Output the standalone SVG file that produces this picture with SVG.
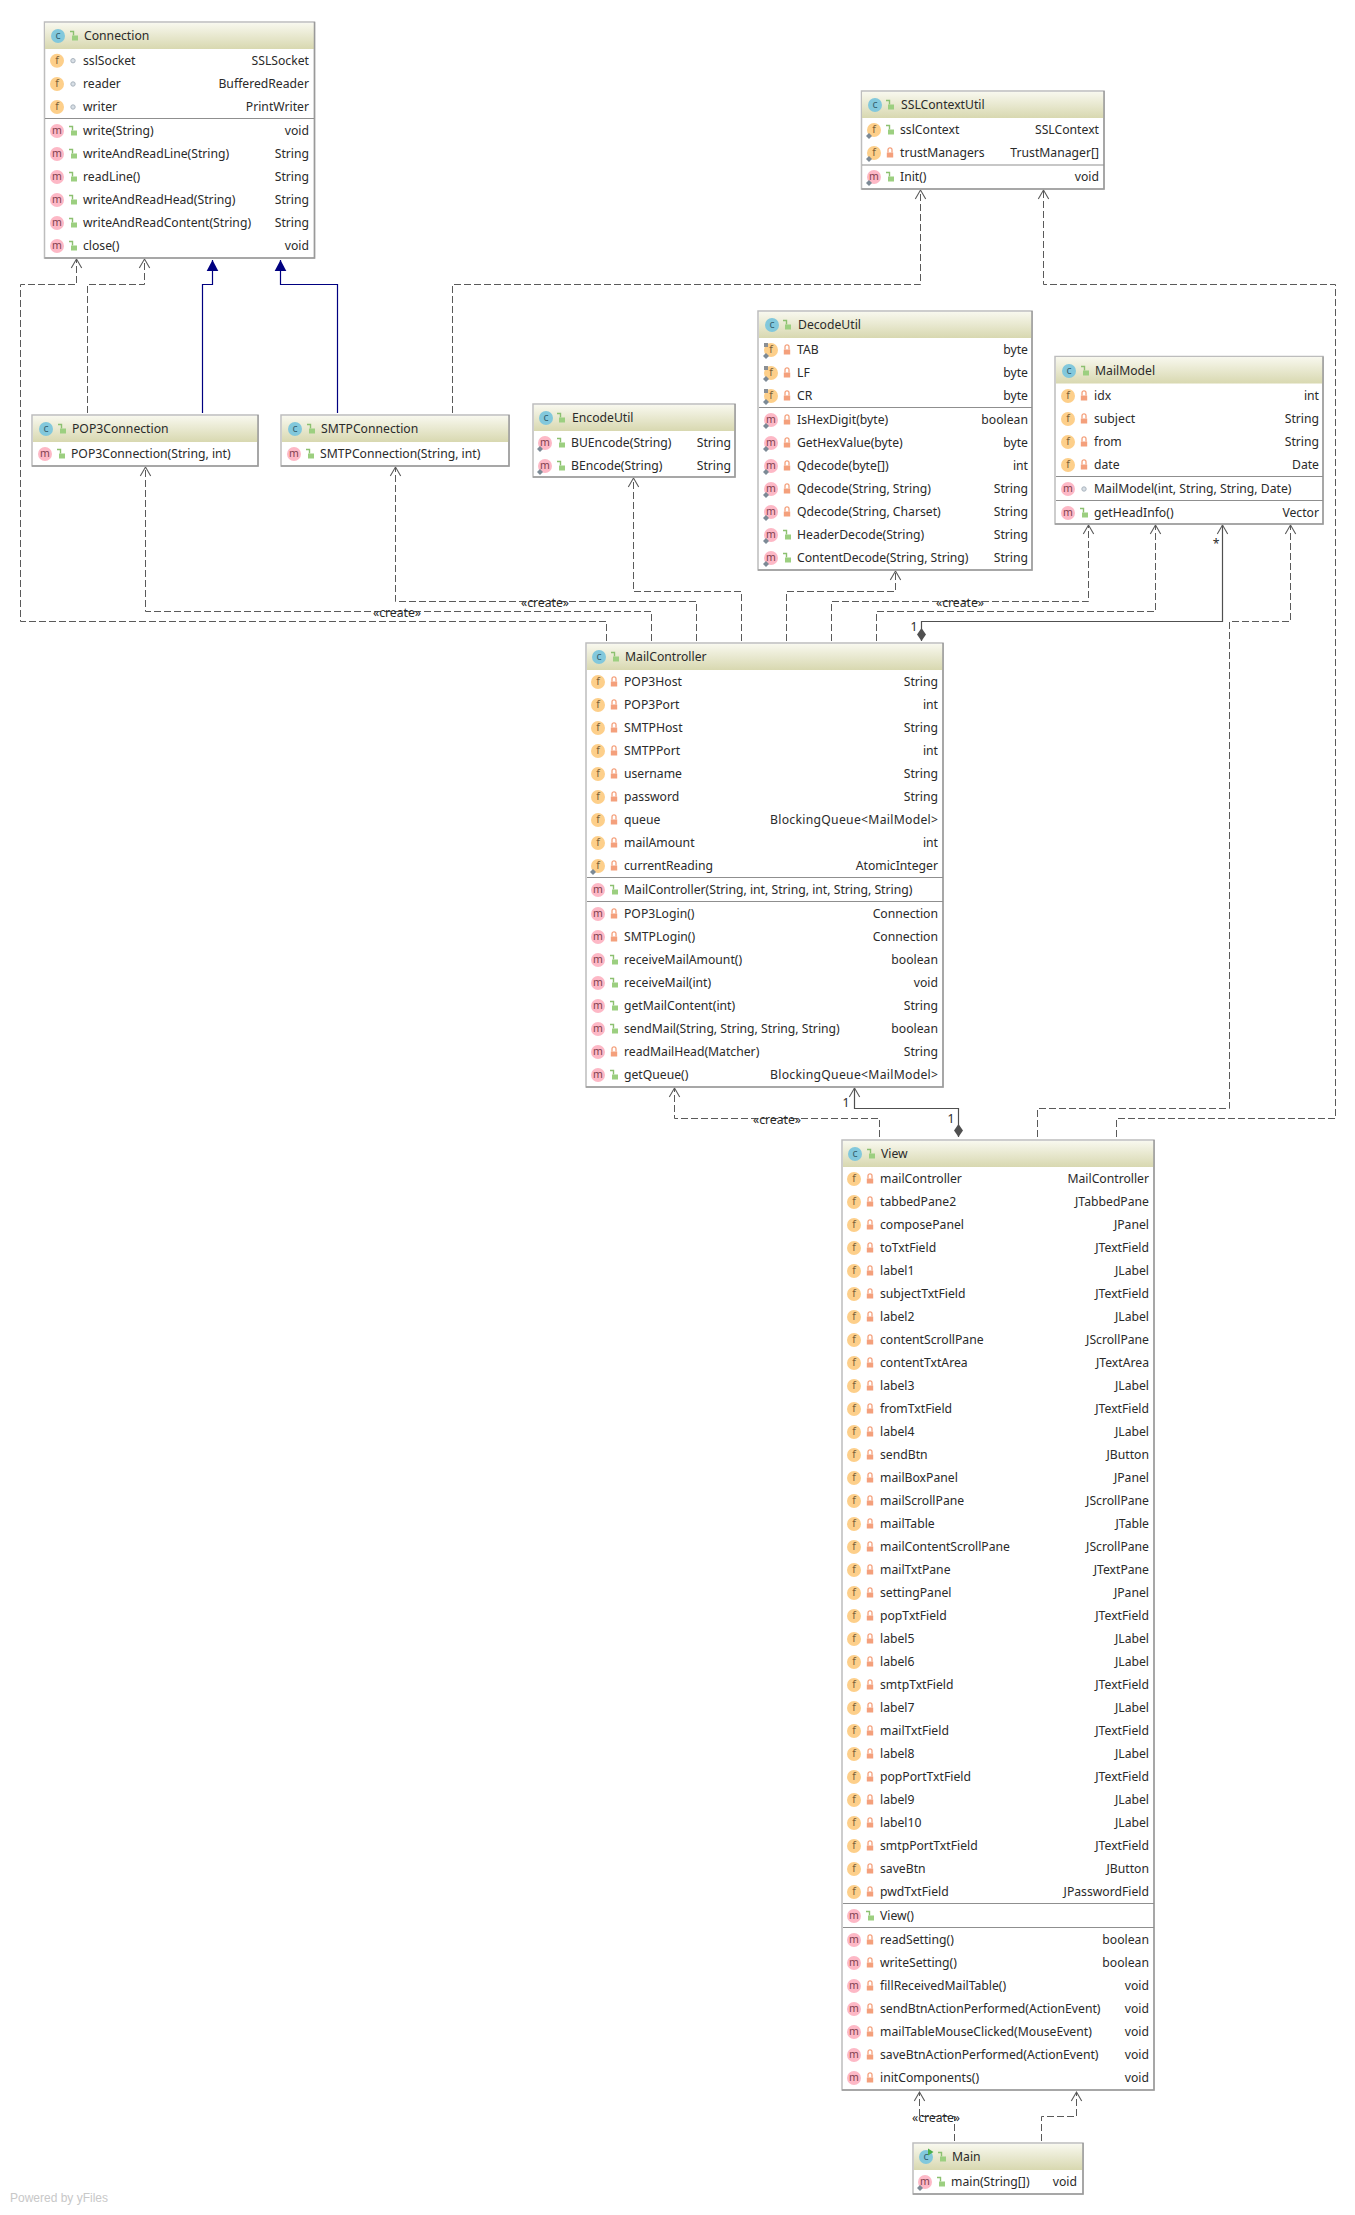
<svg xmlns="http://www.w3.org/2000/svg" width="1355" height="2215" viewBox="0 0 1355 2215">
<style>
text{font-family:"Noto Sans","Open Sans",sans-serif;font-size:12.2px;fill:#2a2a2a;dominant-baseline:central;transform:translateY(-.6px)}
.r{text-anchor:end}
.box{fill:#fff;stroke:#bdbdbd;stroke-width:1.5}
.sh{fill:none;stroke:#9a9a9a;stroke-width:1.5}
.hd{fill:url(#hg)}
.sep{stroke:#8f8f8f;stroke-width:1.2}
.dep{fill:none;stroke:#5a5a5a;stroke-width:1;stroke-dasharray:7 3;marker-end:url(#open)}
.ext{fill:none;stroke:#000080;stroke-width:1.2;marker-end:url(#tri)}
.comp{fill:none;stroke:#505050;stroke-width:1.2;marker-start:url(#dia);marker-end:url(#open)}
.il{font-size:10.5px;text-anchor:middle}
</style>
<defs>
<linearGradient id="hg" x1="0" y1="0" x2="0" y2="1"><stop offset="0" stop-color="#f8f8ee"/><stop offset="1" stop-color="#d8d8b0"/></linearGradient>
<marker id="open" markerUnits="userSpaceOnUse" markerWidth="14" markerHeight="14" refX="11" refY="7" orient="auto"><path d="M2 1.8L11 7L2 12.2" fill="none" stroke="#5a5a5a" stroke-width="1.1"/></marker>
<marker id="tri" markerUnits="userSpaceOnUse" markerWidth="14" markerHeight="14" refX="12" refY="7" orient="auto"><path d="M1 1.2L12 7L1 12.8z" fill="#000080"/></marker>
<marker id="dia" markerUnits="userSpaceOnUse" markerWidth="16" markerHeight="12" refX="1" refY="6" orient="auto"><path d="M1 6L7.5 1.5L14 6L7.5 10.5z" fill="#505050"/></marker>
<g id="c"><circle r="7" fill="#82c8dc"/><text class="il" style="fill:#35606e">c</text></g>
<g id="c2"><circle r="7" fill="#82c8dc"/><text class="il" style="fill:#35606e">c</text><path d="M2-8.5L7.5-5L2-1.5z" fill="#4cae4c"/></g>
<g id="f"><circle r="7" fill="#fdcf8a"/><text class="il" style="fill:#7a6038">f</text></g>
<g id="m"><circle r="7" fill="#fdb8c6"/><text class="il" style="fill:#80404e">m</text></g>
<path id="gear" d="M0-3L3 0L0 3L-3 0z" fill="#7c8a96"/>
<g id="fs"><use href="#f"/><use href="#gear" x="-5" y="6"/></g>
<g id="ms"><use href="#m"/><use href="#gear" x="-5" y="6"/></g>
<g id="fsf"><use href="#fs"/><path d="M-7-7L-3-7L-3-3L-7-3z" fill="#8a8f94"/></g>
<g id="pub"><path d="M-4-4.5H-0.5V-0.5" fill="none" stroke="#8cc070" stroke-width="1.4"/><rect x="-2" y="-0.5" width="6" height="5" fill="#9ccf80"/></g>
<g id="pri"><path d="M-2-0.5V-3.2A2 2 0 0 1 2-3.2V-0.5" fill="none" stroke="#f4a07c" stroke-width="1.3"/><rect x="-3.2" y="-0.5" width="6.4" height="5" fill="#f4a07c"/></g>
<circle id="pk" r="2.2" fill="#d8dfe6" stroke="#aab4be"/>
</defs>
<rect width="1355" height="2215" fill="#fff"/>
<g id="connectors">
<path class="dep" d="M606.5 641V621.5H20.5V284.5H76.5V259"/>
<path class="dep" d="M87.5 413V284.5H144.5V259"/>
<path class="ext" d="M202.5 413V284.5H212.5V260"/>
<path class="ext" d="M337.5 413V284.5H280.5V260"/>
<path class="dep" d="M452.5 413V284.5H920.5V190"/>
<path class="dep" d="M1116.5 1137V1118.5H1335.5V284.5H1043.5V190"/>
<path class="dep" d="M651.5 641V611.5H145.5V467"/>
<path class="dep" d="M696.5 641V601.5H395.5V467"/>
<path class="dep" d="M741.5 641V591.5H633.5V478"/>
<path class="dep" d="M786.5 641V591.5H895.5V571"/>
<path class="dep" d="M831.5 641V601.5H1088.5V525"/>
<path class="dep" d="M876.5 641V611.5H1155.5V525"/>
<path class="comp" d="M921.5 641V621.5H1222.5V525"/>
<path class="dep" d="M1037.5 1137V1108.5H1229.5V621.5H1290.5V525"/>
<path class="dep" d="M879.5 1137V1118.5H674.5V1088"/>
<path class="comp" d="M958.5 1137V1108.5H854.5V1088"/>
<path class="dep" d="M954.5 2141V2116.5H919.5V2092"/>
<path class="dep" d="M1041.5 2141V2116.5H1076.5V2092"/>
<text x="397" y="613" text-anchor="middle">«create»</text>
<text x="545" y="603" text-anchor="middle">«create»</text>
<text x="960" y="603" text-anchor="middle">«create»</text>
<text x="777" y="1120" text-anchor="middle">«create»</text>
<text x="936" y="2118" text-anchor="middle">«create»</text>
<text x="1216" y="544" text-anchor="middle">*</text>
<text x="914" y="627" text-anchor="middle">1</text>
<text x="846" y="1103" text-anchor="middle">1</text>
<text x="951" y="1119" text-anchor="middle">1</text>
</g>
<g id="Connection">
<rect class="box" x="44.5" y="22" width="270" height="236"/><rect class="hd" x="45" y="23" width="269" height="26"/><path class="sh" d="M44.5 258H314.5V22"/>
<use href="#c" x="58" y="36"/><use href="#pub" x="74" y="36"/><text x="84" y="36">Connection</text>
<use href="#f" x="57" y="60.700"/><use href="#pk" x="73" y="60.700"/><text x="83" y="60.700">sslSocket</text><text class="r" x="309" y="60.700">SSLSocket</text>
<use href="#f" x="57" y="84"/><use href="#pk" x="73" y="84"/><text x="83" y="84">reader</text><text class="r" x="309" y="84">BufferedReader</text>
<use href="#f" x="57" y="107"/><use href="#pk" x="73" y="107"/><text x="83" y="107">writer</text><text class="r" x="309" y="107">PrintWriter</text>
<line class="sep" x1="45" x2="314" y1="118.5" y2="118.5"/>
<use href="#m" x="57" y="131"/><use href="#pub" x="73" y="131"/><text x="83" y="131">write(String)</text><text class="r" x="309" y="131">void</text>
<use href="#m" x="57" y="154"/><use href="#pub" x="73" y="154"/><text x="83" y="154">writeAndReadLine(String)</text><text class="r" x="309" y="154">String</text>
<use href="#m" x="57" y="177"/><use href="#pub" x="73" y="177"/><text x="83" y="177">readLine()</text><text class="r" x="309" y="177">String</text>
<use href="#m" x="57" y="200"/><use href="#pub" x="73" y="200"/><text x="83" y="200">writeAndReadHead(String)</text><text class="r" x="309" y="200">String</text>
<use href="#m" x="57" y="223"/><use href="#pub" x="73" y="223"/><text x="83" y="223">writeAndReadContent(String)</text><text class="r" x="309" y="223">String</text>
<use href="#m" x="57" y="246"/><use href="#pub" x="73" y="246"/><text x="83" y="246">close()</text><text class="r" x="309" y="246">void</text>
</g>
<g id="POP3Connection">
<rect class="box" x="32" y="415" width="226" height="51"/><rect class="hd" x="33" y="416" width="225" height="26"/><path class="sh" d="M32 466H258V415"/>
<use href="#c" x="46" y="429"/><use href="#pub" x="62" y="429"/><text x="72" y="429">POP3Connection</text>
<use href="#m" x="45" y="454"/><use href="#pub" x="61" y="454"/><text x="71" y="454">POP3Connection(String, int)</text>
</g>
<g id="SMTPConnection">
<rect class="box" x="281" y="415" width="228" height="51"/><rect class="hd" x="282" y="416" width="227" height="26"/><path class="sh" d="M281 466H509V415"/>
<use href="#c" x="295" y="429"/><use href="#pub" x="311" y="429"/><text x="321" y="429">SMTPConnection</text>
<use href="#m" x="294" y="454"/><use href="#pub" x="310" y="454"/><text x="320" y="454">SMTPConnection(String, int)</text>
</g>
<g id="SSLContextUtil">
<rect class="box" x="861.5" y="91" width="242.5" height="98"/><rect class="hd" x="862" y="92" width="242" height="26"/><path class="sh" d="M861.5 189H1104V91"/>
<use href="#c" x="875" y="105"/><use href="#pub" x="890" y="105"/><text x="901" y="105">SSLContextUtil</text>
<use href="#fs" x="874" y="130"/><use href="#pub" x="890" y="130"/><text x="900" y="130">sslContext</text><text class="r" x="1099" y="130">SSLContext</text>
<use href="#fs" x="874" y="153"/><use href="#pri" x="890" y="153"/><text x="900" y="153">trustManagers</text><text class="r" x="1099" y="153">TrustManager[]</text>
<line class="sep" x1="862" x2="1104" y1="165" y2="165"/>
<use href="#ms" x="874" y="177"/><use href="#pub" x="890" y="177"/><text x="900" y="177">Init()</text><text class="r" x="1099" y="177">void</text>
</g>
<g id="EncodeUtil">
<rect class="box" x="533" y="404" width="202" height="73"/><rect class="hd" x="534" y="405" width="201" height="26"/><path class="sh" d="M533 477H735V404"/>
<use href="#c" x="546" y="418"/><use href="#pub" x="561" y="418"/><text x="572" y="418">EncodeUtil</text>
<use href="#ms" x="545" y="443"/><use href="#pub" x="561" y="443"/><text x="571" y="443">BUEncode(String)</text><text class="r" x="731" y="443">String</text>
<use href="#ms" x="545" y="466"/><use href="#pub" x="561" y="466"/><text x="571" y="466">BEncode(String)</text><text class="r" x="731" y="466">String</text>
</g>
<g id="DecodeUtil">
<rect class="box" x="758" y="311" width="274" height="259"/><rect class="hd" x="759" y="312" width="273" height="26"/><path class="sh" d="M758 570H1032V311"/>
<use href="#c" x="772" y="325"/><use href="#pub" x="787" y="325"/><text x="798" y="325">DecodeUtil</text>
<use href="#fsf" x="771" y="350"/><use href="#pri" x="787" y="350"/><text x="797" y="350">TAB</text><text class="r" x="1028" y="350">byte</text>
<use href="#fsf" x="771" y="373"/><use href="#pri" x="787" y="373"/><text x="797" y="373">LF</text><text class="r" x="1028" y="373">byte</text>
<use href="#fsf" x="771" y="396"/><use href="#pri" x="787" y="396"/><text x="797" y="396">CR</text><text class="r" x="1028" y="396">byte</text>
<line class="sep" x1="759" x2="1032" y1="407.5" y2="407.5"/>
<use href="#ms" x="771" y="420"/><use href="#pri" x="787" y="420"/><text x="797" y="420">IsHexDigit(byte)</text><text class="r" x="1028" y="420">boolean</text>
<use href="#ms" x="771" y="443"/><use href="#pri" x="787" y="443"/><text x="797" y="443">GetHexValue(byte)</text><text class="r" x="1028" y="443">byte</text>
<use href="#ms" x="771" y="466"/><use href="#pri" x="787" y="466"/><text x="797" y="466">Qdecode(byte[])</text><text class="r" x="1028" y="466">int</text>
<use href="#ms" x="771" y="489"/><use href="#pri" x="787" y="489"/><text x="797" y="489">Qdecode(String, String)</text><text class="r" x="1028" y="489">String</text>
<use href="#ms" x="771" y="512"/><use href="#pri" x="787" y="512"/><text x="797" y="512">Qdecode(String, Charset)</text><text class="r" x="1028" y="512">String</text>
<use href="#ms" x="771" y="535"/><use href="#pub" x="787" y="535"/><text x="797" y="535">HeaderDecode(String)</text><text class="r" x="1028" y="535">String</text>
<use href="#ms" x="771" y="558"/><use href="#pub" x="787" y="558"/><text x="797" y="558">ContentDecode(String, String)</text><text class="r" x="1028" y="558">String</text>
</g>
<g id="MailModel">
<rect class="box" x="1055" y="356.5" width="268" height="167.5"/><rect class="hd" x="1056" y="357" width="267" height="26.5"/><path class="sh" d="M1055 524H1323V356.5"/>
<use href="#c" x="1069" y="371"/><use href="#pub" x="1085" y="371"/><text x="1095" y="371">MailModel</text>
<use href="#f" x="1068" y="396"/><use href="#pri" x="1084" y="396"/><text x="1094" y="396">idx</text><text class="r" x="1319" y="396">int</text>
<use href="#f" x="1068" y="419"/><use href="#pri" x="1084" y="419"/><text x="1094" y="419">subject</text><text class="r" x="1319" y="419">String</text>
<use href="#f" x="1068" y="442"/><use href="#pri" x="1084" y="442"/><text x="1094" y="442">from</text><text class="r" x="1319" y="442">String</text>
<use href="#f" x="1068" y="465"/><use href="#pri" x="1084" y="465"/><text x="1094" y="465">date</text><text class="r" x="1319" y="465">Date</text>
<line class="sep" x1="1056" x2="1323" y1="476.5" y2="476.5"/>
<use href="#m" x="1068" y="489"/><use href="#pk" x="1084" y="489"/><text x="1094" y="489">MailModel(int, String, String, Date)</text>
<line class="sep" x1="1056" x2="1323" y1="500.5" y2="500.5"/>
<use href="#m" x="1068" y="513"/><use href="#pub" x="1084" y="513"/><text x="1094" y="513">getHeadInfo()</text><text class="r" x="1319" y="513">Vector</text>
</g>
<g id="MailController">
<rect class="box" x="586" y="643" width="357" height="444"/><rect class="hd" x="587" y="644" width="356" height="26"/><path class="sh" d="M586 1087H943V643"/>
<use href="#c" x="599" y="657"/><use href="#pub" x="615" y="657"/><text x="625" y="657">MailController</text>
<use href="#f" x="598" y="682"/><use href="#pri" x="614" y="682"/><text x="624" y="682">POP3Host</text><text class="r" x="938" y="682">String</text>
<use href="#f" x="598" y="705"/><use href="#pri" x="614" y="705"/><text x="624" y="705">POP3Port</text><text class="r" x="938" y="705">int</text>
<use href="#f" x="598" y="728"/><use href="#pri" x="614" y="728"/><text x="624" y="728">SMTPHost</text><text class="r" x="938" y="728">String</text>
<use href="#f" x="598" y="751"/><use href="#pri" x="614" y="751"/><text x="624" y="751">SMTPPort</text><text class="r" x="938" y="751">int</text>
<use href="#f" x="598" y="774"/><use href="#pri" x="614" y="774"/><text x="624" y="774">username</text><text class="r" x="938" y="774">String</text>
<use href="#f" x="598" y="797"/><use href="#pri" x="614" y="797"/><text x="624" y="797">password</text><text class="r" x="938" y="797">String</text>
<use href="#f" x="598" y="820"/><use href="#pri" x="614" y="820"/><text x="624" y="820">queue</text><text class="r" x="938" y="820" textLength="168" lengthAdjust="spacing">BlockingQueue&lt;MailModel&gt;</text>
<use href="#f" x="598" y="843"/><use href="#pri" x="614" y="843"/><text x="624" y="843">mailAmount</text><text class="r" x="938" y="843">int</text>
<use href="#fs" x="598" y="866"/><use href="#pri" x="614" y="866"/><text x="624" y="866">currentReading</text><text class="r" x="938" y="866">AtomicInteger</text>
<line class="sep" x1="587" x2="943" y1="877.5" y2="877.5"/>
<use href="#m" x="598" y="890"/><use href="#pub" x="614" y="890"/><text x="624" y="890">MailController(String, int, String, int, String, String)</text>
<line class="sep" x1="587" x2="943" y1="901.5" y2="901.5"/>
<use href="#m" x="598" y="914"/><use href="#pri" x="614" y="914"/><text x="624" y="914">POP3Login()</text><text class="r" x="938" y="914">Connection</text>
<use href="#m" x="598" y="937"/><use href="#pri" x="614" y="937"/><text x="624" y="937">SMTPLogin()</text><text class="r" x="938" y="937">Connection</text>
<use href="#m" x="598" y="960"/><use href="#pub" x="614" y="960"/><text x="624" y="960">receiveMailAmount()</text><text class="r" x="938" y="960">boolean</text>
<use href="#m" x="598" y="983"/><use href="#pub" x="614" y="983"/><text x="624" y="983">receiveMail(int)</text><text class="r" x="938" y="983">void</text>
<use href="#m" x="598" y="1006"/><use href="#pub" x="614" y="1006"/><text x="624" y="1006">getMailContent(int)</text><text class="r" x="938" y="1006">String</text>
<use href="#m" x="598" y="1029"/><use href="#pub" x="614" y="1029"/><text x="624" y="1029">sendMail(String, String, String, String)</text><text class="r" x="938" y="1029">boolean</text>
<use href="#m" x="598" y="1052"/><use href="#pri" x="614" y="1052"/><text x="624" y="1052">readMailHead(Matcher)</text><text class="r" x="938" y="1052">String</text>
<use href="#m" x="598" y="1075"/><use href="#pub" x="614" y="1075"/><text x="624" y="1075">getQueue()</text><text class="r" x="938" y="1075" textLength="168" lengthAdjust="spacing">BlockingQueue&lt;MailModel&gt;</text>
</g>
<g id="View">
<rect class="box" x="842" y="1140" width="312" height="950"/><rect class="hd" x="843" y="1141" width="311" height="26"/><path class="sh" d="M842 2090H1154V1140"/>
<use href="#c" x="855" y="1154"/><use href="#pub" x="871" y="1154"/><text x="881" y="1154">View</text>
<use href="#f" x="854" y="1179"/><use href="#pri" x="870" y="1179"/><text x="880" y="1179">mailController</text><text class="r" x="1149" y="1179">MailController</text>
<use href="#f" x="854" y="1202"/><use href="#pri" x="870" y="1202"/><text x="880" y="1202">tabbedPane2</text><text class="r" x="1149" y="1202">JTabbedPane</text>
<use href="#f" x="854" y="1225"/><use href="#pri" x="870" y="1225"/><text x="880" y="1225">composePanel</text><text class="r" x="1149" y="1225">JPanel</text>
<use href="#f" x="854" y="1248"/><use href="#pri" x="870" y="1248"/><text x="880" y="1248">toTxtField</text><text class="r" x="1149" y="1248">JTextField</text>
<use href="#f" x="854" y="1271"/><use href="#pri" x="870" y="1271"/><text x="880" y="1271">label1</text><text class="r" x="1149" y="1271">JLabel</text>
<use href="#f" x="854" y="1294"/><use href="#pri" x="870" y="1294"/><text x="880" y="1294">subjectTxtField</text><text class="r" x="1149" y="1294">JTextField</text>
<use href="#f" x="854" y="1317"/><use href="#pri" x="870" y="1317"/><text x="880" y="1317">label2</text><text class="r" x="1149" y="1317">JLabel</text>
<use href="#f" x="854" y="1340"/><use href="#pri" x="870" y="1340"/><text x="880" y="1340">contentScrollPane</text><text class="r" x="1149" y="1340">JScrollPane</text>
<use href="#f" x="854" y="1363"/><use href="#pri" x="870" y="1363"/><text x="880" y="1363">contentTxtArea</text><text class="r" x="1149" y="1363">JTextArea</text>
<use href="#f" x="854" y="1386"/><use href="#pri" x="870" y="1386"/><text x="880" y="1386">label3</text><text class="r" x="1149" y="1386">JLabel</text>
<use href="#f" x="854" y="1409"/><use href="#pri" x="870" y="1409"/><text x="880" y="1409">fromTxtField</text><text class="r" x="1149" y="1409">JTextField</text>
<use href="#f" x="854" y="1432"/><use href="#pri" x="870" y="1432"/><text x="880" y="1432">label4</text><text class="r" x="1149" y="1432">JLabel</text>
<use href="#f" x="854" y="1455"/><use href="#pri" x="870" y="1455"/><text x="880" y="1455">sendBtn</text><text class="r" x="1149" y="1455">JButton</text>
<use href="#f" x="854" y="1478"/><use href="#pri" x="870" y="1478"/><text x="880" y="1478">mailBoxPanel</text><text class="r" x="1149" y="1478">JPanel</text>
<use href="#f" x="854" y="1501"/><use href="#pri" x="870" y="1501"/><text x="880" y="1501">mailScrollPane</text><text class="r" x="1149" y="1501">JScrollPane</text>
<use href="#f" x="854" y="1524"/><use href="#pri" x="870" y="1524"/><text x="880" y="1524">mailTable</text><text class="r" x="1149" y="1524">JTable</text>
<use href="#f" x="854" y="1547"/><use href="#pri" x="870" y="1547"/><text x="880" y="1547">mailContentScrollPane</text><text class="r" x="1149" y="1547">JScrollPane</text>
<use href="#f" x="854" y="1570"/><use href="#pri" x="870" y="1570"/><text x="880" y="1570">mailTxtPane</text><text class="r" x="1149" y="1570">JTextPane</text>
<use href="#f" x="854" y="1593"/><use href="#pri" x="870" y="1593"/><text x="880" y="1593">settingPanel</text><text class="r" x="1149" y="1593">JPanel</text>
<use href="#f" x="854" y="1616"/><use href="#pri" x="870" y="1616"/><text x="880" y="1616">popTxtField</text><text class="r" x="1149" y="1616">JTextField</text>
<use href="#f" x="854" y="1639"/><use href="#pri" x="870" y="1639"/><text x="880" y="1639">label5</text><text class="r" x="1149" y="1639">JLabel</text>
<use href="#f" x="854" y="1662"/><use href="#pri" x="870" y="1662"/><text x="880" y="1662">label6</text><text class="r" x="1149" y="1662">JLabel</text>
<use href="#f" x="854" y="1685"/><use href="#pri" x="870" y="1685"/><text x="880" y="1685">smtpTxtField</text><text class="r" x="1149" y="1685">JTextField</text>
<use href="#f" x="854" y="1708"/><use href="#pri" x="870" y="1708"/><text x="880" y="1708">label7</text><text class="r" x="1149" y="1708">JLabel</text>
<use href="#f" x="854" y="1731"/><use href="#pri" x="870" y="1731"/><text x="880" y="1731">mailTxtField</text><text class="r" x="1149" y="1731">JTextField</text>
<use href="#f" x="854" y="1754"/><use href="#pri" x="870" y="1754"/><text x="880" y="1754">label8</text><text class="r" x="1149" y="1754">JLabel</text>
<use href="#f" x="854" y="1777"/><use href="#pri" x="870" y="1777"/><text x="880" y="1777">popPortTxtField</text><text class="r" x="1149" y="1777">JTextField</text>
<use href="#f" x="854" y="1800"/><use href="#pri" x="870" y="1800"/><text x="880" y="1800">label9</text><text class="r" x="1149" y="1800">JLabel</text>
<use href="#f" x="854" y="1823"/><use href="#pri" x="870" y="1823"/><text x="880" y="1823">label10</text><text class="r" x="1149" y="1823">JLabel</text>
<use href="#f" x="854" y="1846"/><use href="#pri" x="870" y="1846"/><text x="880" y="1846">smtpPortTxtField</text><text class="r" x="1149" y="1846">JTextField</text>
<use href="#f" x="854" y="1869"/><use href="#pri" x="870" y="1869"/><text x="880" y="1869">saveBtn</text><text class="r" x="1149" y="1869">JButton</text>
<use href="#f" x="854" y="1892"/><use href="#pri" x="870" y="1892"/><text x="880" y="1892">pwdTxtField</text><text class="r" x="1149" y="1892">JPasswordField</text>
<line class="sep" x1="843" x2="1154" y1="1903.5" y2="1903.5"/>
<use href="#m" x="854" y="1916"/><use href="#pub" x="870" y="1916"/><text x="880" y="1916">View()</text>
<line class="sep" x1="843" x2="1154" y1="1927.5" y2="1927.5"/>
<use href="#m" x="854" y="1940"/><use href="#pri" x="870" y="1940"/><text x="880" y="1940">readSetting()</text><text class="r" x="1149" y="1940">boolean</text>
<use href="#m" x="854" y="1963"/><use href="#pri" x="870" y="1963"/><text x="880" y="1963">writeSetting()</text><text class="r" x="1149" y="1963">boolean</text>
<use href="#m" x="854" y="1986"/><use href="#pri" x="870" y="1986"/><text x="880" y="1986">fillReceivedMailTable()</text><text class="r" x="1149" y="1986">void</text>
<use href="#m" x="854" y="2009"/><use href="#pri" x="870" y="2009"/><text x="880" y="2009">sendBtnActionPerformed(ActionEvent)</text><text class="r" x="1149" y="2009">void</text>
<use href="#m" x="854" y="2032"/><use href="#pri" x="870" y="2032"/><text x="880" y="2032">mailTableMouseClicked(MouseEvent)</text><text class="r" x="1149" y="2032">void</text>
<use href="#m" x="854" y="2055"/><use href="#pri" x="870" y="2055"/><text x="880" y="2055">saveBtnActionPerformed(ActionEvent)</text><text class="r" x="1149" y="2055">void</text>
<use href="#m" x="854" y="2078"/><use href="#pri" x="870" y="2078"/><text x="880" y="2078">initComponents()</text><text class="r" x="1149" y="2078">void</text>
</g>
<g id="Main">
<rect class="box" x="913" y="2143" width="170" height="51"/><rect class="hd" x="914" y="2144" width="169" height="26"/><path class="sh" d="M913 2194H1083V2143"/>
<use href="#c2" x="926" y="2157"/><use href="#pub" x="942" y="2157"/><text x="952" y="2157">Main</text>
<use href="#ms" x="925" y="2182"/><use href="#pub" x="941" y="2182"/><text x="951" y="2182">main(String[])</text><text class="r" x="1077" y="2182">void</text>
</g>
<text x="10" y="2199" style="font-family:'Liberation Sans',sans-serif;font-size:12px;fill:#c8c8c8">Powered by yFiles</text>
</svg>
